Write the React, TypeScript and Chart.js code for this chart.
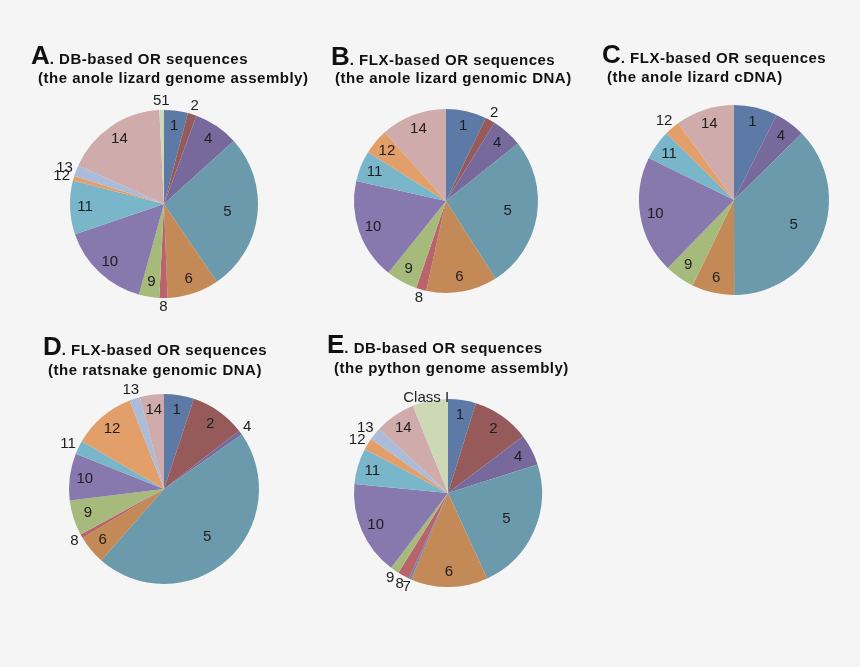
import React, { useEffect, useRef } from "react";
import { Chart, registerables } from "chart.js";

Chart.register(...registerables);

// ---- Data (share of each OR group, % of the pie) ----
const pieALabels = ["1", "2", "4", "5", "6", "8", "9", "10", "11", "12", "13", "14", "51"];
const pieAValues = [4.1, 1.5, 7.7, 27.2, 8.9, 1.4, 3.5, 15.5, 9.2, 0.8, 1.9, 17.5, 0.8];

const pieBLabels = ["1", "2", "4", "5", "6", "8", "9", "10", "11", "12", "14"];
const pieBValues = [7.1, 1.75, 5.4, 26.7, 12.5, 1.8, 5.5, 17.75, 5.4, 4.5, 11.6];

const pieCLabels = ["1", "4", "5", "6", "9", "10", "11", "12", "14"];
const pieCValues = [7.4, 5.25, 37.3, 7.2, 5.1, 20.0, 5.1, 2.6, 10.0];

const pieDLabels = ["1", "2", "4", "5", "6", "8", "9", "10", "11", "12", "13", "14"];
const pieDValues = [5.1, 9.4, 0.8, 46.2, 4.9, 0.7, 6.0, 8.0, 2.3, 10.75, 1.8, 4.1];

const pieELabels = ["1", "2", "4", "5", "6", "7", "8", "9", "10", "11", "12", "13", "14", "Class I"];
const pieEValues = [4.8, 9.9, 5.4, 23.1, 13.3, 0.4, 2.0, 1.5, 16.2, 6.2, 2.0, 2.2, 7.0, 6.1];

const titleLetters = ["A", "B", "C", "D", "E"];
const titleLine1 = [
  ". DB-based OR sequences",
  ". FLX-based OR sequences",
  ". FLX-based OR sequences",
  ". FLX-based OR sequences",
  ". DB-based OR sequences",
];
const titleLine2 = [
  "(the anole lizard genome assembly)",
  "(the anole lizard genomic DNA)",
  "(the anole lizard cDNA)",
  "(the ratsnake genomic DNA)",
  "(the python genome assembly)",
];

// ---- Styles ----
const COLORS: Record<string, string> = {
  "1": "#5d7aa7",
  "2": "#965a5b",
  "4": "#77699c",
  "5": "#6a9aab",
  "6": "#c38a57",
  "7": "#6a86b0",
  "8": "#b9646b",
  "9": "#a6ba7c",
  "10": "#8778ad",
  "11": "#79b6c9",
  "12": "#e39f69",
  "13": "#abbcd9",
  "14": "#d0abab",
  "51": "#ccd8b6",
  "Class I": "#ccd8b6",
};

const FONT = '"Liberation Sans", Arial, Helvetica, sans-serif';
const PAD = 50;

const labelPlugin = {
  id: "sliceLabels",
  afterDatasetsDraw(chart: any) {
    const ctx = chart.ctx;
    const meta = chart.getDatasetMeta(0);
    const labels = chart.data.labels as string[];
    ctx.save();
    ctx.font = `15px ${FONT}`;
    ctx.fillStyle = "#1e1e1e";
    ctx.textAlign = "center";
    ctx.textBaseline = "middle";
    meta.data.forEach((arc: any, i: number) => {
      const { x, y, startAngle, endAngle, outerRadius } = arc.getProps(
        ["x", "y", "startAngle", "endAngle", "outerRadius"],
        true
      );
      const span = endAngle - startAngle;
      const mid = (startAngle + endAngle) / 2;
      const text = labels[i];
      const cos = Math.cos(mid);
      const sin = Math.sin(mid);
      const inside = span > (10 * Math.PI) / 180 && text.length <= 2;
      if (inside) {
        const f = span > (80 * Math.PI) / 180 ? 0.68 : 0.84;
        ctx.fillText(text, x + cos * outerRadius * f, y + sin * outerRadius * f);
      } else {
        const w = ctx.measureText(text).width;
        const long = text.length > 2;
        const d = outerRadius + (long ? -2 : 4);
        const px = x + cos * d + (cos * w) / 2;
        const py = y + sin * d + sin * 5;
        ctx.fillText(text, px, py);
      }
    });
    ctx.restore();
  },
};

function Pie({ labels, values, cx, cy, r }: { labels: string[]; values: number[]; cx: number; cy: number; r: number }) {
  const ref = useRef<HTMLCanvasElement>(null);
  useEffect(() => {
    if (!ref.current) return;
    const chart = new Chart(ref.current, {
      type: "pie",
      data: {
        labels,
        datasets: [
          {
            data: values,
            backgroundColor: labels.map((l) => COLORS[l]),
            borderWidth: 0,
          },
        ],
      },
      options: {
        responsive: false,
        animation: false,
        layout: { padding: PAD },
        plugins: { legend: { display: false }, tooltip: { enabled: false } },
      },
      plugins: [labelPlugin],
    });
    return () => chart.destroy();
  }, []);
  const size = 2 * (r + PAD);
  return (
    <canvas
      ref={ref}
      width={size}
      height={size}
      style={{ position: "absolute", left: cx - r - PAD, top: cy - r - PAD, width: size, height: size }}
    />
  );
}

function Title({ idx, x1, b1, x2, b2 }: { idx: number; x1: number; b1: number; x2: number; b2: number }) {
  const big = 26;
  const small = 15;
  return (
    <>
      <div
        style={{
          position: "absolute",
          left: x1,
          top: b1 - 0.8465 * big,
          display: "flex",
          alignItems: "baseline",
          whiteSpace: "nowrap",
          fontFamily: FONT,
          fontWeight: "bold",
          color: "#111",
          zIndex: 2,
        }}
      >
        <span style={{ fontSize: big, lineHeight: 1 }}>{titleLetters[idx]}</span>
        <span style={{ fontSize: small, lineHeight: 1, letterSpacing: 0.5, whiteSpace: "pre" }}>{titleLine1[idx]}</span>
      </div>
      <div
        style={{
          position: "absolute",
          left: x2,
          top: b2 - 0.8465 * small,
          fontSize: small,
          lineHeight: 1,
          letterSpacing: 0.5,
          whiteSpace: "nowrap",
          fontFamily: FONT,
          fontWeight: "bold",
          color: "#111",
          zIndex: 2,
        }}
      >
        {titleLine2[idx]}
      </div>
    </>
  );
}

export default function App() {
  return (
    <div
      style={{
        position: "fixed",
        left: 0,
        top: 0,
        width: 860,
        height: 667,
        background: "#f5f5f5",
        overflow: "hidden",
      }}
    >
      <Pie labels={pieALabels} values={pieAValues} cx={164} cy={204} r={94} />
      <Pie labels={pieBLabels} values={pieBValues} cx={446} cy={201} r={92} />
      <Pie labels={pieCLabels} values={pieCValues} cx={734} cy={200} r={95} />
      <Pie labels={pieDLabels} values={pieDValues} cx={164} cy={489} r={95} />
      <Pie labels={pieELabels} values={pieEValues} cx={448} cy={493} r={94} />
      <Title idx={0} x1={31} b1={64} x2={38} b2={83} />
      <Title idx={1} x1={331} b1={65} x2={335} b2={83} />
      <Title idx={2} x1={602} b1={63} x2={607} b2={82} />
      <Title idx={3} x1={43} b1={355} x2={48} b2={375} />
      <Title idx={4} x1={327} b1={353} x2={334} b2={373} />
    </div>
  );
}
